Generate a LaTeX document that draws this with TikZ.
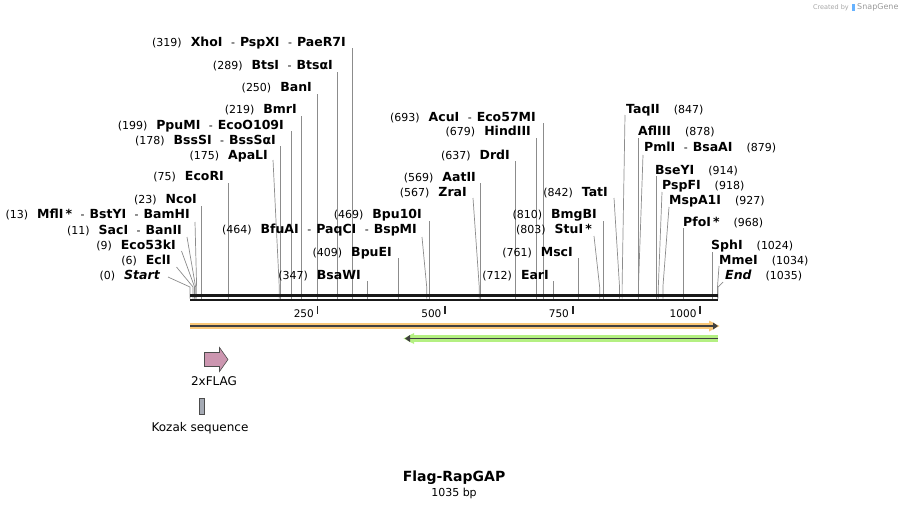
\documentclass[tikz,border=0pt]{standalone}
\usepackage{fontspec}
\setmainfont{DejaVu Sans}
\definecolor{cutgray}{RGB}{140,140,140}
\definecolor{orfor}{RGB}{250,200,120}
\definecolor{orgreen}{RGB}{180,240,130}
\definecolor{flagpink}{RGB}{204,150,176}
\definecolor{kozak}{RGB}{165,170,180}
\newcommand\bn[1]{{\fontsize{12.5}{14}\selectfont\bfseries #1}}
\newcommand\nn[1]{(#1)\hspace{9pt}}
\newcommand\rn[1]{\hspace{14pt}(#1)}
\newcommand\dd{\hspace{8.5pt}-\hspace{5pt}}
\newcommand\cutl[4]{%
  \coordinate (t#1) at (#2,#3);
  \coordinate (k#1) at (#4,287);
  \coordinate (s#1) at (#4,298.6);
  \draw[cut] (t#1) -- (k#1) -- (s#1);}
\begin{document}
\begin{tikzpicture}[x=1pt,y=-1pt,
  lab/.style={inner sep=0pt, font=\fontsize{11}{12}\selectfont},
  flab/.style={inner sep=0pt, font=\fontsize{12}{14}\selectfont},
  L/.style={lab, anchor=base east},
  R/.style={lab, anchor=base west},
  cut/.style={draw=cutgray, line width=0.7pt},
  tick/.style={draw=black!85, line width=1.8pt},
  ticklab/.style={inner sep=0pt, anchor=base east, font=\fontsize{10.5}{12}\selectfont}]
\useasboundingbox (0,0) rectangle (909,509);

% ---- cut site lines ----
\cutl{319}{352.73}{48}{352.73}
\cutl{289}{337.43}{72}{337.43}
\cutl{250}{317.54}{94}{317.54}
\cutl{219}{301.72}{116}{301.72}
\cutl{199}{291.52}{131}{291.52}
\cutl{178}{280.80}{146}{280.80}
\cutl{175}{273}{160}{279.27}
\cutl{75}{228.26}{183}{228.26}
\cutl{23}{201.73}{206}{201.73}
\cutl{13}{195}{222}{196.63}
\cutl{11}{187}{237}{195.61}
\cutl{9}{181.5}{251}{194.59}
\cutl{6}{176.5}{267}{193.06}
\cutl{0}{168}{277}{190.0}
\cutl{469}{429.26}{221}{429.26}
\cutl{464}{422}{237}{426.70}
\cutl{409}{398.65}{258}{398.65}
\cutl{347}{367.02}{281}{367.02}
\cutl{569}{480.27}{183}{480.27}
\cutl{567}{473}{198}{479.25}
\cutl{637}{514.96}{161}{514.96}
\cutl{679}{536.39}{138}{536.39}
\cutl{693}{543.53}{123}{543.53}
\cutl{712}{553.22}{281}{553.22}
\cutl{761}{578.22}{258}{578.22}
\cutl{803}{594}{236}{599.64}
\cutl{810}{603.22}{221}{603.22}
\cutl{842}{614}{198}{619.54}
\cutl{847}{625}{115}{622.09}
\cutl{878}{637.90}{138}{637.90}
\cutl{879}{643}{155}{638.41}
\cutl{914}{656.27}{176}{656.27}
\cutl{918}{662}{192}{658.31}
\cutl{927}{669}{207}{662.90}
\cutl{968}{683.81}{228}{683.81}
\cutl{1024}{712.38}{252}{712.38}
\cutl{1034}{719}{266}{717.49}
\cutl{1035}{723}{282}{718.0}

% ---- labels, left group ----
\node[L] (n319) at (346,46.5) {\nn{319}\bn{XhoI}\dd\bn{PspXI}\dd\bn{PaeR7I}};
\node[L] (n289) at (333,69.5) {\nn{289}\bn{BtsI}\dd\bn{BtsαI}};
\node[L] (n250) at (312,91.5) {\nn{250}\bn{BanI}};
\node[L] (n219) at (297,113.5) {\nn{219}\bn{BmrI}};
\node[L] (n199) at (284,129.5) {\nn{199}\bn{PpuMI}\dd\bn{EcoO109I}};
\node[L] (n178) at (276,144.5) {\nn{178}\bn{BssSI}\dd\bn{BssSαI}};
\node[L] (n175) at (268,159.5) {\nn{175}\bn{ApaLI}};
\node[L] (n75) at (224,180.5) {\nn{75}\bn{EcoRI}};
\node[L] (n23) at (197,203.5) {\nn{23}\bn{NcoI}};
\node[L] (n13) at (190,218.5) {\nn{13}\bn{MflI\,*}\dd\bn{BstYI}\dd\bn{BamHI}};
\node[L] (n11) at (182,234.5) {\nn{11}\bn{SacI}\dd\bn{BanII}};
\node[L] (n9) at (176,249.5) {\nn{9}\bn{Eco53kI}};
\node[L] (n6) at (171,264.5) {\nn{6}\bn{EclI}};
\node[L] (n0) at (160,279.5) {\nn{0}\bn{\itshape Start}};

% ---- labels, middle group ----
\node[L] (n469) at (422,218.5) {\nn{469}\bn{Bpu10I}};
\node[L] (n464) at (417,233.5) {\nn{464}\bn{BfuAI}\dd\bn{PaqCI}\dd\bn{BspMI}};
\node[L] (n409) at (392,256.5) {\nn{409}\bn{BpuEI}};
\node[L] (n347) at (361,279.5) {\nn{347}\bn{BsaWI}};
\node[L] (n569) at (476,181.5) {\nn{569}\bn{AatII}};
\node[L] (n567) at (467,196.5) {\nn{567}\bn{ZraI}};
\node[L] (n637) at (510,159.5) {\nn{637}\bn{DrdI}};
\node[L] (n679) at (531,135.5) {\nn{679}\bn{HindIII}};
\node[L] (n693) at (536,121.5) {\nn{693}\bn{AcuI}\dd\bn{Eco57MI}};
\node[L] (n712) at (549,279.5) {\nn{712}\bn{EarI}};
\node[L] (n761) at (573,256.5) {\nn{761}\bn{MscI}};
\node[L] (n803) at (592,233.5) {\nn{803}\bn{StuI\,*}};
\node[L] (n810) at (597,218.5) {\nn{810}\bn{BmgBI}};
\node[L] (n842) at (608,196.5) {\nn{842}\bn{TatI}};

% ---- labels, right group ----
\node[R] (n847) at (626,113.5) {\bn{TaqII}\rn{847}};
\node[R] (n878) at (638,135.5) {\bn{AflIII}\rn{878}};
\node[R] (n879) at (644,151.5) {\bn{PmlI}\dd\bn{BsaAI}\rn{879}};
\node[R] (n914) at (655,174.5) {\bn{BseYI}\rn{914}};
\node[R] (n918) at (662,189.5) {\bn{PspFI}\rn{918}};
\node[R] (n927) at (669,204.5) {\bn{MspA1I}\rn{927}};
\node[R] (n968) at (683,226.5) {\bn{PfoI\,*}\rn{968}};
\node[R] (n1024) at (711,249.5) {\bn{SphI}\rn{1024}};
\node[R] (n1034) at (719,264.5) {\bn{MmeI}\rn{1034}};
\node[R] (n1035) at (725,279.5) {\bn{\itshape End}\rn{1035}};

% ---- sequence bar ----
\coordinate (bL) at (190,300);
\coordinate (bR) at (718,300);
\draw[line width=2.2pt, black!90] (bL) -- (bR);
\draw[line width=2.5pt, black!90] ([yshift=4.6pt]bL) -- ([yshift=4.6pt]bR);
% ticks
\foreach \x/\t in {317.54/250, 445.07/500, 572.61/750, 700.14/1000}{
  \draw[tick] (\x,305.5) -- (\x,314);
  \node[ticklab] (tl\t) at (\x-3.5,317) {\t};
}

% ---- features ----
\coordinate (fA) at (190,326);
\coordinate (fB) at (718,326);
\draw[orfor, line width=6.5pt] (fA) -- ([xshift=-4pt]fB);
\fill[orfor] (709,320.5) -- (719.5,326) -- (709,331.5) -- cycle;
\draw[black!75, line width=1.6pt] (fA) -- ([xshift=-3pt]fB);
\fill[black!75] (713,322.5) -- (718,326) -- (713,329.5) -- cycle;

\coordinate (gA) at (405,338.5);
\coordinate (gB) at (718,338.5);
\draw[orgreen, line width=6.5pt] ([xshift=4pt]gA) -- (gB);
\fill[orgreen] (414,333) -- (403.5,338.5) -- (414,344) -- cycle;
\draw[black!75, line width=1.6pt] ([xshift=3pt]gA) -- (gB);
\fill[black!75] (410,335) -- (405,338.5) -- (410,342) -- cycle;

% 2xFLAG
\draw[black!70, line width=0.6pt, fill=flagpink]
  (204.5,352.5) -- (219.5,352.5) -- (219.5,347.5) -- (228,359.5) -- (219.5,371.5)
  -- (219.5,366.5) -- (204.5,366.5) -- cycle;
\node[flab] (flag) at (214,381) {2xFLAG};
% Kozak
\draw[black!70, line width=0.6pt, fill=kozak] (199.5,398.5) rectangle (204.5,414);
\node[flab] (koz) at (200,428) {Kozak sequence};

% ---- title ----
\node[inner sep=0pt, font=\fontsize{14}{16}\selectfont\bfseries] (title) at (454,478) {Flag-RapGAP};
\node[inner sep=0pt, font=\fontsize{11}{13}\selectfont] (bp) at (454,493) {1035 bp};

% ---- credit ----
\node[inner sep=0pt, anchor=east, text=black!35, font=\fontsize{6.5}{8}\selectfont] (cred) at (849,7.5) {Created by};
\fill[blue!50!cyan!60] (852,4) rectangle (855,11);
\node[inner sep=0pt, anchor=west, text=black!40, font=\fontsize{8}{9}\selectfont] (sg) at (857,7.5) {SnapGene};
\end{tikzpicture}
\end{document}
